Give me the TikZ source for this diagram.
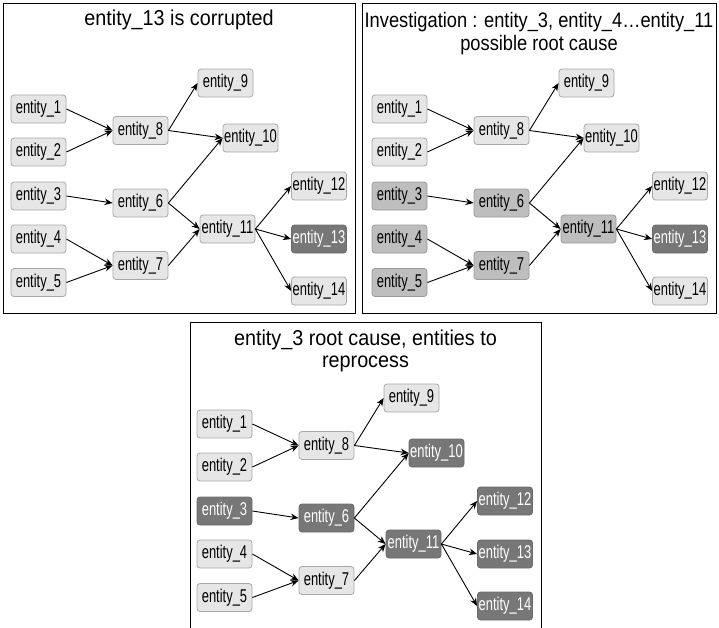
\documentclass[tikz,border=0pt]{standalone}
\usepackage{fontspec}
\usetikzlibrary{arrows.meta}
\newfontfamily\nodefont[FakeStretch=0.70]{Liberation Sans}
\newfontfamily\titlefont[FakeStretch=0.87]{Liberation Sans}
\newfontfamily\titlefontw[FakeStretch=0.92]{Liberation Sans}
\definecolor{lightfill}{HTML}{E6E6E6}
\definecolor{lightdraw}{HTML}{A8A8A8}
\definecolor{midfill}{HTML}{BEBEBE}
\definecolor{middraw}{HTML}{9A9A9A}
\definecolor{darkfill}{HTML}{777777}
\definecolor{darkdraw}{HTML}{6A6A6A}
\newcommand\drawpanel[1]{%
  \node[ent,s1]  (#1-1)  at (38.5,109)   {entity\_1};
  \node[ent,s2]  (#1-2)  at (38.5,152)   {entity\_2};
  \node[ent,s3]  (#1-3)  at (38.5,196)   {entity\_3};
  \node[ent,s4]  (#1-4)  at (38.5,239)   {entity\_4};
  \node[ent,s5]  (#1-5)  at (38.5,282.5) {entity\_5};
  \node[ent,s8]  (#1-8)  at (140.5,130.5){entity\_8};
  \node[ent,s6]  (#1-6)  at (140.5,203)  {entity\_6};
  \node[ent,s7]  (#1-7)  at (140.5,265.5){entity\_7};
  \node[ent,s9]  (#1-9)  at (225.5,83)   {entity\_9};
  \node[ent,s10] (#1-10) at (250.5,138)  {entity\_10};
  \node[ent,s11] (#1-11) at (227.5,229)  {entity\_11};
  \node[ent,s12] (#1-12) at (319,186)    {entity\_12};
  \node[ent,s13] (#1-13) at (319,239)    {entity\_13};
  \node[ent,s14] (#1-14) at (319,291)    {entity\_14};
  \foreach \a/\b in {1/8,2/8,3/6,4/7,5/7,8/9,8/10,6/10,6/11,7/11,11/12,11/13,11/14}
    \draw[edge] (#1-\a.east) -- (#1-\b.west);
}
\begin{document}
\begin{tikzpicture}[x=1pt,y=-1pt,
  ent/.style={rectangle, rounded corners=3pt, minimum width=55pt, minimum height=28pt,
    inner sep=0pt, line width=0.8pt, font=\nodefont\fontsize{18.5}{22}\selectfont},
  light/.style={fill=lightfill, draw=lightdraw, text=black},
  mid/.style={fill=midfill, draw=middraw, text=black},
  dark/.style={fill=darkfill, draw=darkdraw, text=white},
  s1/.style=light, s2/.style=light, s3/.style=light, s4/.style=light, s5/.style=light,
  s6/.style=light, s7/.style=light, s8/.style=light, s9/.style=light, s10/.style=light,
  s11/.style=light, s12/.style=light, s13/.style=light, s14/.style=light,
  edge/.style={line width=0.9pt, -{Stealth[length=8pt,width=6.5pt,inset=2.5pt]}},
  frame/.style={draw=black, line width=0.9pt},
  ttl/.style={font=\titlefont\fontsize{21}{24}\selectfont, align=center, inner sep=0pt},
  ttlw/.style={font=\titlefontw\fontsize{21.5}{24}\selectfont, align=center, inner sep=0pt}]
\useasboundingbox (0,0) rectangle (719,627);
\fill[white] (0,0) rectangle (719,627);
% panel 1
\draw[frame] (3,3) rectangle (355,313);
\node[ttlw] (t1) at (179,20) {entity\_13 is corrupted};
\begin{scope}[s13/.style=dark]
\drawpanel{a}
\end{scope}
% panel 2
\draw[frame] (362,3) rectangle (716,313);
\node[ttl] (t2) at (539,22) {Investigation : entity\_3, entity\_4\ldots entity\_11};
\node[ttl] (t2b) at (539,45) {possible root cause};
\begin{scope}[shift={(361,0)}, s3/.style=mid, s4/.style=mid, s5/.style=mid,
  s6/.style=mid, s7/.style=mid, s11/.style=mid, s13/.style=dark]
\drawpanel{b}
\end{scope}
% panel 3
\draw[frame] (190,630) -- (190,322) -- (541,322) -- (541,630);
\node[ttlw] (t3) at (365.5,340) {entity\_3 root cause, entities to};
\node[ttlw] (t3b) at (365.5,364) {reprocess};
\begin{scope}[shift={(186,315)}, s3/.style=dark, s6/.style=dark, s10/.style=dark,
  s11/.style=dark, s12/.style=dark, s13/.style=dark, s14/.style=dark]
\drawpanel{c}
\end{scope}
\end{tikzpicture}
\end{document}
